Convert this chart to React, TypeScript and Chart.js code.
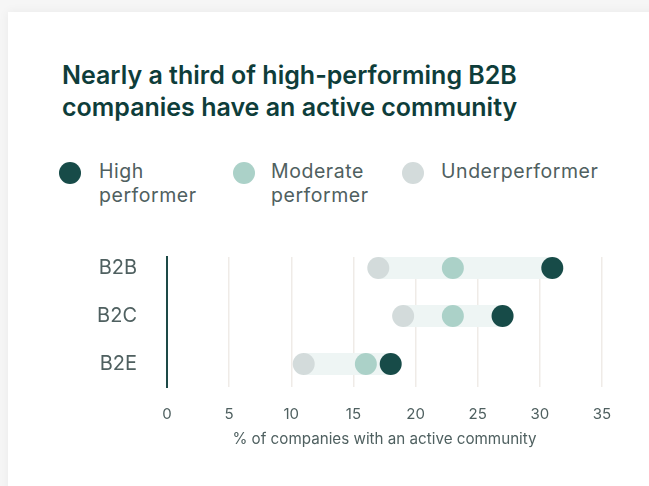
import React, { useEffect, useRef } from "react";
import { Chart, registerables } from "chart.js";

Chart.register(...registerables);

const categories = ["B2B", "B2C", "B2E"];
const highPerformer = [31, 27, 18];
const moderatePerformer = [23, 23, 16];
const underperformer = [17, 19, 11];
const xMin = 0;
const xMax = 35;
const xStep = 5;

const TITLE_LINES = ["Nearly a third of high-performing B2B", "companies have an active community"];
const X_TITLE = "% of companies with an active community";

const COLORS = {
  high: "#174b48",
  moderate: "#abd1c8",
  under: "#d3dbdb",
  band: "#eef5f4",
  title: "#0e3d3a",
  text: "#4f6060",
  grid: "#efebe7",
  axis: "#1d4a47",
};

const legendItems = [
  { lines: ["High", "performer"], color: COLORS.high, dot: 70, text: 99 },
  { lines: ["Moderate", "performer"], color: COLORS.moderate, dot: 244, text: 271 },
  { lines: ["Underperformer"], color: COLORS.under, dot: 413, text: 441 },
];

const FONT = "Inter, 'Open Sans', sans-serif";

export default function App() {
  const ref = useRef<HTMLCanvasElement | null>(null);

  useEffect(() => {
    if (!ref.current) return;
    const bands = categories.map((_, i) => ({
      type: "line" as const,
      data: [
        { x: Math.min(underperformer[i], moderatePerformer[i], highPerformer[i]), y: i },
        { x: Math.max(underperformer[i], moderatePerformer[i], highPerformer[i]), y: i },
      ],
      borderColor: COLORS.band,
      borderWidth: 22,
      borderCapStyle: "butt" as const,
      pointRadius: 0,
      showLine: true,
      order: 10,
    }));
    const pts = (vals: number[], color: string, order: number) => ({
      type: "scatter" as const,
      data: vals.map((v, i) => ({ x: v, y: i })),
      backgroundColor: color,
      borderColor: color,
      borderWidth: 0,
      pointRadius: 11,
      pointHoverRadius: 11,
      order,
    });
    const chart = new Chart(ref.current, {
      type: "scatter",
      data: {
        datasets: [
          ...bands,
          pts(underperformer, COLORS.under, 3),
          pts(moderatePerformer, COLORS.moderate, 2),
          pts(highPerformer, COLORS.high, 1),
        ] as any,
      },
      options: {
        animation: false,
        responsive: false,
        layout: { padding: { top: 17, right: 38, left: 0, bottom: 0 } },
        plugins: { legend: { display: false }, tooltip: { enabled: false } },
        scales: {
          x: {
            type: "linear",
            min: xMin,
            max: xMax,
            ticks: {
              stepSize: xStep,
              padding: 18,
              color: COLORS.text,
              font: { family: FONT, size: 15 },
            },
            grid: { color: COLORS.grid, drawTicks: false, lineWidth: 1.5 },
            border: { display: false },
            title: {
              display: true,
              text: X_TITLE,
              color: COLORS.text,
              font: { family: FONT, size: 15.2 },
              padding: { top: 0, bottom: 8 },
            },
            afterFit: (s: any) => {
              s.height = 70;
              s.paddingLeft = 0;
              s.paddingRight = 0;
            },
          },
          y: {
            type: "linear",
            reverse: true,
            min: -0.23,
            max: 2.48,
            afterBuildTicks: (s: any) => {
              s.ticks = categories.map((_, i) => ({ value: i }));
            },
            ticks: {
              padding: 22,
              color: COLORS.text,
              font: { family: FONT, size: 20 },
              callback: (v: any) => categories[v as number] ?? "",
            },
            grid: { display: false },
            border: { display: true, color: COLORS.axis, width: 2 },
            afterFit: (s: any) => {
              s.width = 107;
              s.paddingTop = 0;
              s.paddingBottom = 0;
            },
          },
        },
      },
    });
    return () => chart.destroy();
  }, []);

  return (
    <div
      style={{
        position: "fixed",
        left: 0,
        top: 0,
        width: 649,
        height: 486,
        overflow: "hidden",
        background: "#f6f6f6",
      }}
    >
      <div
        style={{
          position: "absolute",
          left: 8,
          top: 12,
          width: 680,
          height: 520,
          background: "#ffffff",
          boxShadow: "0 0 10px rgba(0,0,0,0.06)",
        }}
      />
      <div
        style={{
          position: "absolute",
          left: 62,
          top: 59,
          fontFamily: FONT,
          fontWeight: 600,
          fontSize: 25,
          lineHeight: "32px",
          color: COLORS.title,
          whiteSpace: "nowrap",
        }}
      >
        {TITLE_LINES.map((l) => (
          <div key={l}>{l}</div>
        ))}
      </div>
      {legendItems.map((it) => (
        <React.Fragment key={it.lines[0]}>
          <div
            style={{
              position: "absolute",
              left: it.dot - 11,
              top: 162,
              width: 22,
              height: 22,
              borderRadius: 11,
              background: it.color,
            }}
          />
          <div
            style={{
              position: "absolute",
              left: it.text,
              top: 159,
              fontFamily: FONT,
              fontSize: 19.5,
              letterSpacing: "0.55px",
              lineHeight: "24px",
              color: COLORS.text,
              whiteSpace: "nowrap",
            }}
          >
            {it.lines.map((l) => (
              <div key={l}>{l}</div>
            ))}
          </div>
        </React.Fragment>
      ))}
      <div style={{ position: "absolute", left: 60, top: 240 }}>
        <canvas ref={ref} width={580} height={217} />
      </div>
    </div>
  );
}
